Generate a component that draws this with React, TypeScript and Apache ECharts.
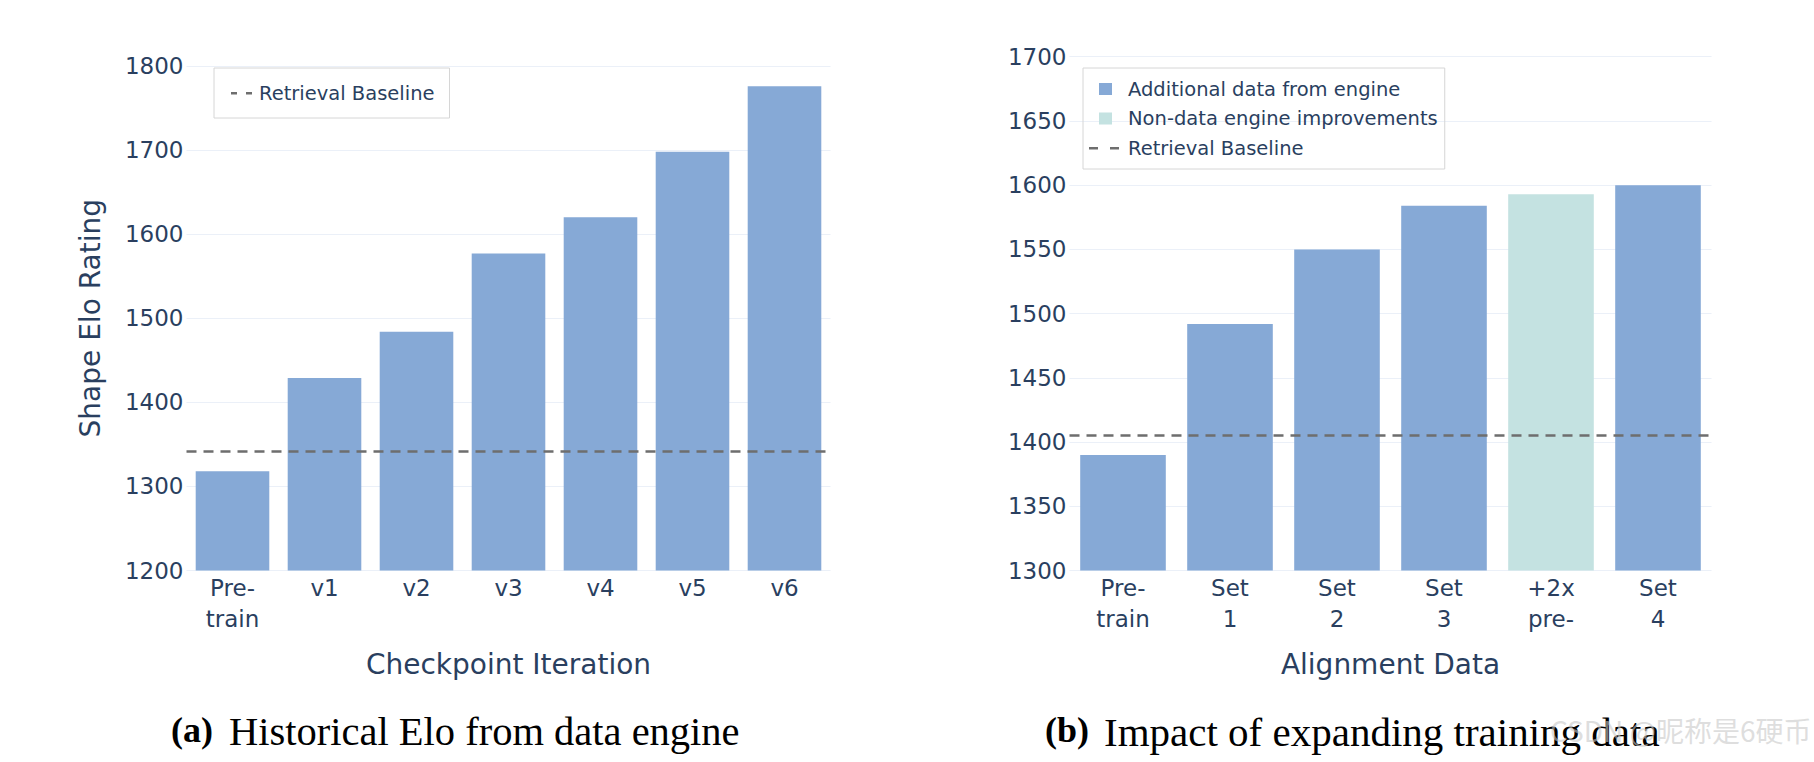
import React, { useEffect, useRef } from "react";
import * as echarts from "echarts";

// ---------- data ----------
const leftCategories = ["Pre-\ntrain", "v1", "v2", "v3", "v4", "v5", "v6"];
const leftValues = [1318, 1429, 1484, 1577, 1620, 1698, 1776];
const leftBaseline = 1342;
const leftYTicks = [1200, 1300, 1400, 1500, 1600, 1700, 1800];

const rightCategories = ["Pre-\ntrain", "Set\n1", "Set\n2", "Set\n3", "+2x\npre-", "Set\n4"];
const rightEngineValues: (number | string)[] = [1390, 1492, 1550, 1584, "-", 1600];
const rightNonDataValues: (number | string)[] = ["-", "-", "-", "-", 1593, "-"];
const rightBaseline = 1405;
const rightYTicks = [1300, 1350, 1400, 1450, 1500, 1550, 1600, 1650, 1700];

const leftXName = "Checkpoint Iteration";
const leftYName = "Shape Elo Rating";
const rightXName = "Alignment Data";
const baselineName = "Retrieval Baseline";
const engineName = "Additional data from engine";
const nonDataName = "Non-data engine improvements";
const captionA = ["(a)", "Historical Elo from data engine"];
const captionB = ["(b)", "Impact of expanding training data"];
const watermark = "CSDN @昵称是6硬币";

// ---------- style ----------
const FONT = "DejaVu Sans";
const TEXT = "#2a3f5f";
const GRID = "#ebf0f8";
const BLUE = "#86a9d6";
const TEAL = "#c4e2e1";
const DASH = "#6e6e6e";

const tiny0 = "M0,0h0.01v0.01h-0.01z";
const leftDashIcon = `path://${tiny0} M0,5h6v2.5h-6z M15,5h6v2.5h-6z M22.99,11.99h0.01v0.01h-0.01z`;
const rightDashIcon = `path://${tiny0} M0,5h9v2.5h-9z M21,5h9v2.5h-9z M33.99,11.99h0.01v0.01h-0.01z`;
const rightSquareIcon = `path://${tiny0} M10,0h13v12h-13z M33.99,11.99h0.01v0.01h-0.01z`;

function yAxis(ticks: number[], gridIndex: number, name?: string) {
  return {
    type: "value",
    gridIndex,
    min: ticks[0],
    max: ticks[ticks.length - 1],
    interval: ticks[1] - ticks[0],
    name: name || "",
    nameLocation: "middle",
    nameGap: 82,
    nameTextStyle: { fontSize: 28, color: TEXT, fontFamily: FONT },
    axisLine: { show: false },
    axisTick: { show: false },
    axisLabel: {
      fontSize: 23,
      color: TEXT,
      fontFamily: FONT,
      margin: 3,
      formatter: (v: number) => String(v),
    },
    splitLine: { show: true, lineStyle: { color: GRID, width: 1.2 } },
  };
}

function xAxis(cats: string[], gridIndex: number, name: string) {
  return {
    type: "category",
    gridIndex,
    data: cats,
    name,
    nameLocation: "middle",
    nameGap: 80,
    nameTextStyle: { fontSize: 28, color: TEXT, fontFamily: FONT },
    axisLine: { show: false },
    axisTick: { show: false },
    axisLabel: {
      interval: 0,
      fontSize: 23,
      lineHeight: 31,
      color: TEXT,
      fontFamily: FONT,
      margin: 2,
    },
    splitLine: { show: false },
  };
}

function baselineSeries(xi: number, value: number) {
  return {
    type: "line",
    name: baselineName,
    xAxisIndex: xi,
    yAxisIndex: xi,
    data: [],
    symbol: "none",
    itemStyle: { color: DASH },
    lineStyle: { color: DASH, width: 2.5, type: [10, 7] },
    silent: true,
    markLine: {
      silent: true,
      symbol: ["none", "none"],
      label: { show: false },
      lineStyle: { color: DASH, width: 2.5, type: [10, 7] },
      emphasis: { disabled: true },
      data: [{ yAxis: value }],
    },
  };
}

export default function App() {
  const ref = useRef<HTMLDivElement>(null);

  useEffect(() => {
    if (!ref.current) return;
    const chart = echarts.init(ref.current, undefined, { renderer: "svg" });
    const option: any = {
      animation: false,
      backgroundColor: "#ffffff",
      grid: [
        { left: 186.5, right: 983.5, top: 66, bottom: 191.5 },
        { left: 1069.5, right: 102.5, top: 56.7, bottom: 191.5 },
      ],
      xAxis: [xAxis(leftCategories, 0, leftXName), xAxis(rightCategories, 1, rightXName)],
      yAxis: [yAxis(leftYTicks, 0, leftYName), yAxis(rightYTicks, 1)],
      legend: [
        {
          left: 214,
          top: 68,
          orient: "vertical",
          selectedMode: false,
          padding: [15, 15, 15, 17],
          borderColor: "#d6d6d6",
          borderWidth: 1,
          itemWidth: 23,
          itemHeight: 12,
          textStyle: { fontSize: 19.5, color: TEXT, fontFamily: FONT },
          data: [{ name: baselineName, icon: leftDashIcon, itemStyle: { color: DASH } }],
        },
        {
          left: 1083,
          top: 68,
          orient: "vertical",
          selectedMode: false,
          padding: [11, 7, 11, 6],
          itemGap: 9.5,
          borderColor: "#d6d6d6",
          borderWidth: 1,
          itemWidth: 34,
          itemHeight: 12,
          textStyle: { fontSize: 19.5, color: TEXT, fontFamily: FONT },
          data: [
            { name: engineName, icon: rightSquareIcon, itemStyle: { color: BLUE } },
            { name: nonDataName, icon: rightSquareIcon, itemStyle: { color: TEAL } },
            { name: baselineName, icon: rightDashIcon, itemStyle: { color: DASH } },
          ],
        },
      ],
      series: [
        {
          type: "bar",
          name: "Shape Elo",
          xAxisIndex: 0,
          yAxisIndex: 0,
          data: leftValues,
          barCategoryGap: "20%",
          itemStyle: { color: BLUE },
          silent: true,
        },
        baselineSeries(0, leftBaseline),
        {
          type: "bar",
          name: engineName,
          xAxisIndex: 1,
          yAxisIndex: 1,
          data: rightEngineValues,
          barCategoryGap: "20%",
          barGap: "-100%",
          itemStyle: { color: BLUE },
          silent: true,
        },
        {
          type: "bar",
          name: nonDataName,
          xAxisIndex: 1,
          yAxisIndex: 1,
          data: rightNonDataValues,
          barCategoryGap: "20%",
          barGap: "-100%",
          itemStyle: { color: TEAL },
          silent: true,
        },
        baselineSeries(1, rightBaseline),
      ],
      graphic: [
        {
          type: "text",
          left: 171,
          top: 712,
          style: {
            text: captionA[0],
            font: "bold 36px 'Liberation Serif'",
            fill: "#000",
          },
        },
        {
          type: "text",
          left: 229,
          top: 711,
          style: {
            text: captionA[1],
            font: "40.5px 'Liberation Serif'",
            fill: "#000",
          },
        },
        {
          type: "text",
          left: 1045,
          top: 712,
          style: {
            text: captionB[0],
            font: "bold 36px 'Liberation Serif'",
            fill: "#000",
          },
        },
        {
          type: "text",
          left: 1104,
          top: 711,
          style: {
            text: captionB[1],
            font: "41px 'Liberation Serif'",
            fill: "#000",
          },
        },
        {
          type: "text",
          left: 1550,
          top: 716,
          z: 100,
          style: {
            text: watermark,
            font: "28px 'Noto Sans CJK SC'",
            fill: "rgba(200,200,200,0.6)",
          },
        },
      ],
    };
    chart.setOption(option);
    return () => chart.dispose();
  }, []);

  return (
    <div
      ref={ref}
      style={{ position: "fixed", left: 0, top: 0, width: 1814, height: 762, background: "#fff" }}
    />
  );
}
